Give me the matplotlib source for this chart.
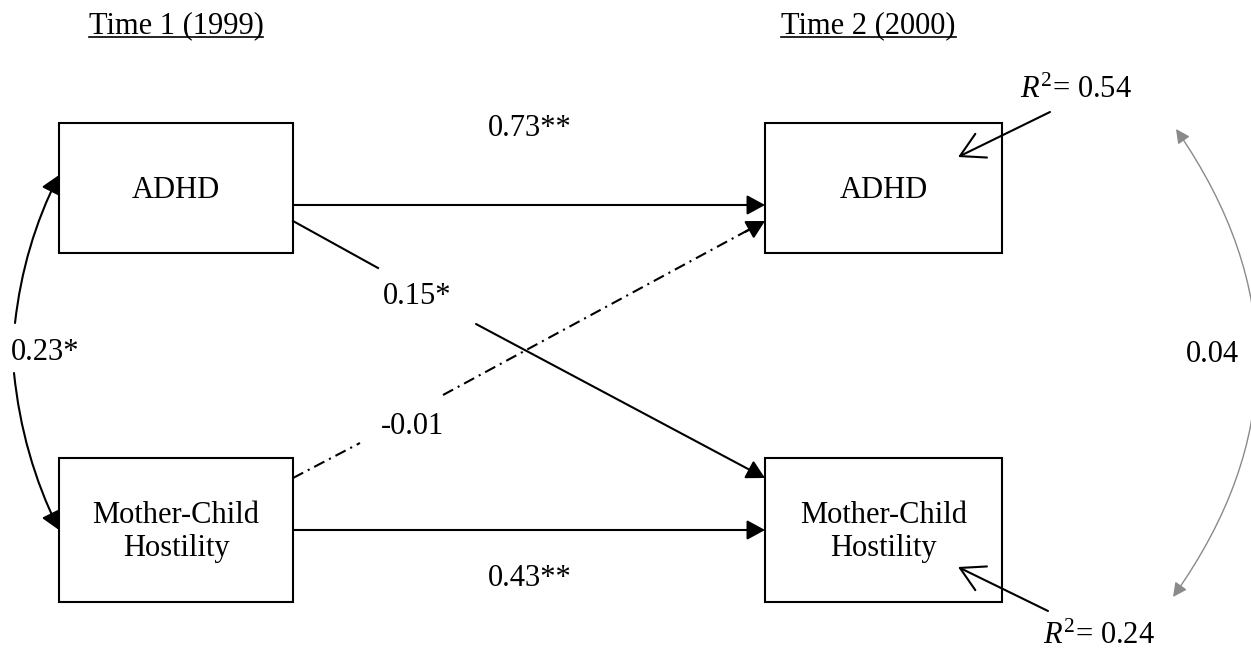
import matplotlib
matplotlib.use("Agg")
import matplotlib.pyplot as plt
from matplotlib.patches import Rectangle, FancyArrowPatch

# ---- values shown in the diagram ----
wave_titles = ["Time 1 (1999)", "Time 2 (2000)"]
var_labels = ["ADHD", "Mother-Child\nHostility"]
stability_paths = ["0.73**", "0.43**"]      # ADHD->ADHD, MCH->MCH
cross_paths = ["0.15*", "-0.01"]            # ADHD->MCH, MCH->ADHD
correlations = ["0.23*", "0.04"]            # time 1, time 2 residuals
r_squared = ["0.54", "0.24"]                # ADHD, MCH at time 2

# ---- layout (pixel units) ----
W, H = 1251, 655
BOX_X = [(59, 293), (765, 1002)]
BOX_Y = [(123, 253), (458, 602)]
LW = 1.5
ARROW = dict(arrowstyle="-|>,head_length=0.55,head_width=0.3",
             mutation_scale=20, shrinkA=0, shrinkB=0, color="black", lw=LW)

plt.rcParams["font.family"] = ["Liberation Serif", "DejaVu Serif"]
plt.rcParams["mathtext.fontset"] = "custom"
plt.rcParams["mathtext.rm"] = "Liberation Serif"
plt.rcParams["mathtext.it"] = "Liberation Serif:italic"
FS = 22

fig = plt.figure(figsize=(W / 100, H / 100), dpi=100)
ax = fig.add_axes([0, 0, 1, 1])
ax.set_xlim(0, W)
ax.set_ylim(H, 0)
ax.axis("off")

# boxes
for (x0, x1) in BOX_X:
    for (y0, y1), lab in zip(BOX_Y, var_labels):
        ax.add_patch(Rectangle((x0, y0), x1 - x0, y1 - y0, fill=False,
                               ec="black", lw=LW))
        ax.text((x0 + x1) / 2, (y0 + y1) / 2 + 2, lab, ha="center", va="center",
                fontsize=FS, linespacing=1.15)

# wave titles (underlined)
titles = []
for (x0, x1), t in zip(BOX_X, wave_titles):
    cx = (x0 + x1) / 2 - (15 if x0 > 500 else 0)
    titles.append(ax.text(cx, 33, t, ha="center", va="baseline", fontsize=FS))
fig.canvas.draw()
inv = ax.transData.inverted()
for t in titles:
    bb = t.get_window_extent()
    (ux0, _), (ux1, _) = inv.transform([(bb.x0, 0), (bb.x1, 0)])
    ax.plot([ux0, ux1], [37, 37], color="black", lw=1.2)

# stability paths
for (y, lab, ly) in [(205, stability_paths[0], 128), (530, stability_paths[1], 578)]:
    ax.add_patch(FancyArrowPatch((BOX_X[0][1], y), (BOX_X[1][0], y), **ARROW))
    ax.text(530, ly, lab, ha="center", va="center", fontsize=FS)

# cross path ADHD1 -> MCH2 (solid, broken by label)
ax.plot([293, 378], [221, 268], color="black", lw=LW)
ax.add_patch(FancyArrowPatch((476, 324), (765, 478), **ARROW))
ax.text(417, 297, cross_paths[0], ha="center", va="center", fontsize=FS)

# cross path MCH1 -> ADHD2 (dash-dot, broken by label)
dd = (0, (5.5, 2.5, 1, 2.5))
ax.plot([293, 360], [478, 443], color="black", lw=LW, linestyle=dd)
ax.plot([443, 752], [395, 228], color="black", lw=LW, linestyle=dd)
ax.add_patch(FancyArrowPatch((745, 232), (765, 221), **ARROW))
ax.text(413, 427, cross_paths[1], ha="center", va="center", fontsize=FS)

# time 1 correlation (black curved arrows)
ax.add_patch(FancyArrowPatch((15, 323), (59, 175), connectionstyle="arc3,rad=-0.09",
                             **ARROW))
ax.add_patch(FancyArrowPatch((14, 373), (59, 530), connectionstyle="arc3,rad=0.09",
                             **ARROW))
ax.text(45, 353, correlations[0], ha="center", va="center", fontsize=FS)

# time 2 residual correlation (grey arc, runs off the right edge)
ax.add_patch(FancyArrowPatch((1176, 129), (1173, 597), connectionstyle="arc3,rad=-0.35",
                             arrowstyle="<|-|>,head_length=0.6,head_width=0.3",
                             mutation_scale=14, shrinkA=0, shrinkB=0,
                             color="#8a8a8a", lw=1.0))
ax.text(1212, 355, correlations[1], ha="center", va="center", fontsize=FS)

# R-squared with open arrowheads
R2_ARROW = dict(arrowstyle="->,head_length=17,head_width=9.5", mutation_scale=1,
                shrinkA=0, shrinkB=0, color="black", lw=LW)
ax.add_patch(FancyArrowPatch((1050, 112), (958, 157), **R2_ARROW))
ax.text(1020, 90, r"$R^{\mathrm{2}}$= " + r_squared[0], ha="left", va="center",
        fontsize=FS)
ax.add_patch(FancyArrowPatch((1048, 611), (958, 567), **R2_ARROW))
ax.text(1043, 636, r"$R^{\mathrm{2}}$= " + r_squared[1], ha="left", va="center",
        fontsize=FS)

fig.savefig("out.png", dpi=100, facecolor="white")
